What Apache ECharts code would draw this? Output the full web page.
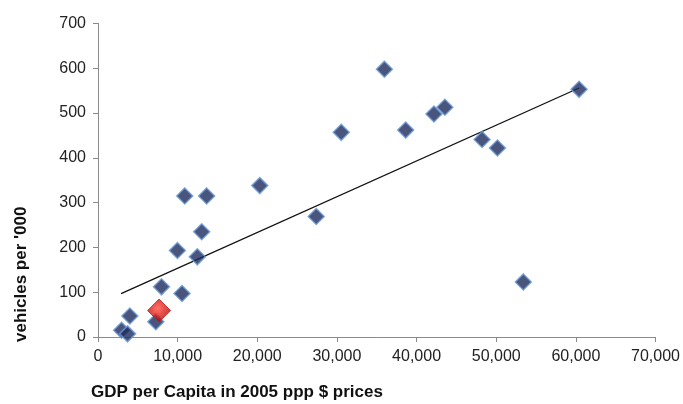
<!DOCTYPE html>
<html>
<head>
<meta charset="utf-8">
<script src="https://cdn.jsdelivr.net/npm/echarts@6/dist/echarts.min.js"></script>
<style>html,body{margin:0;padding:0;background:#fff}#c{width:683px;height:404px}</style>
</head>
<body>
<div id="c"></div>
<script>
// GDP per capita (2005 ppp $) and vehicles per '000
const gdp = [2960, 3710, 4000, 7260, 7970, 9970, 10550, 10890, 12470, 13020, 13640, 20310, 27400, 30540, 35960, 38630, 42180, 43550, 48220, 50150, 53400, 60400];
const vehicles = [15, 7, 47, 34, 112, 193, 97, 315, 179, 235, 315, 338, 269, 457, 598, 462, 498, 513, 441, 422, 123, 553];
// highlighted country
const highlightGdp = [7670];
const highlightVehicles = [59];
// trend line endpoints
const trendGdp = [2900, 60400];
const trendVehicles = [97, 556];
const xTicks = [0, 10000, 20000, 30000, 40000, 50000, 60000, 70000];
const yTicks = [0, 100, 200, 300, 400, 500, 600, 700];

const pts = gdp.map((g, i) => [g, vehicles[i]]);
const hpts = highlightGdp.map((g, i) => [g, highlightVehicles[i]]);
const tpts = trendGdp.map((g, i) => [g, trendVehicles[i]]);

const chart = echarts.init(document.getElementById('c'), null, {renderer: 'canvas'});
const font = 'Liberation Sans, Arial, sans-serif';
chart.setOption({
  animation: false,
  backgroundColor: '#fff',
  title: {
    text: 'GDP per Capita in 2005 ppp $ prices',
    left: 91, top: 382, padding: 0,
    textStyle: {fontFamily: font, fontWeight: 'bold', fontSize: 17, color: '#111', lineHeight: 20}
  },
  grid: {left: 98, right: 26, top: 23.5, bottom: 67},
  xAxis: {
    type: 'value', min: xTicks[0], max: xTicks[xTicks.length - 1], interval: 10000,
    axisLine: {lineStyle: {color: '#8a8a8a', width: 1}},
    axisTick: {show: true, length: 5, lineStyle: {color: '#8a8a8a'}},
    splitLine: {show: false},
    axisLabel: {fontFamily: font, fontSize: 16, color: '#222', margin: 12,
      formatter: v => v.toLocaleString('en-US')}
  },
  yAxis: {
    type: 'value', min: yTicks[0], max: yTicks[yTicks.length - 1], interval: 100,
    name: "vehicles per '000", nameLocation: 'middle', nameGap: 68,
    nameTextStyle: {fontFamily: font, fontWeight: 'bold', fontSize: 17, color: '#111', padding: [0, 188, 0, 0]},
    axisLine: {show: true, lineStyle: {color: '#8a8a8a', width: 1}},
    axisTick: {show: true, length: 5, lineStyle: {color: '#8a8a8a'}},
    splitLine: {show: false},
    axisLabel: {fontFamily: font, fontSize: 16, color: '#222', margin: 12}
  },
  series: [
    {
      type: 'line', data: tpts, showSymbol: false, symbol: 'none',
      lineStyle: {color: '#111', width: 1.3}, z: 1
    },
    {
      type: 'scatter', data: pts, symbol: 'diamond', symbolSize: 16,
      itemStyle: {color: '#1d2a5e', borderColor: '#6a9ad6', borderWidth: 1.5}, z: 2
    },
    {
      type: 'scatter', data: hpts, symbol: 'diamond', symbolSize: 23,
      itemStyle: {
        color: {type: 'radial', x: 0.45, y: 0.4, r: 0.6,
          colorStops: [{offset: 0, color: '#ff5040'}, {offset: 0.5, color: '#e0201a'}, {offset: 1, color: '#a00c0c'}]},
        borderColor: '#c01a14', borderWidth: 1
      }, z: 3
    }
  ]
});
</script>
</body>
</html>
